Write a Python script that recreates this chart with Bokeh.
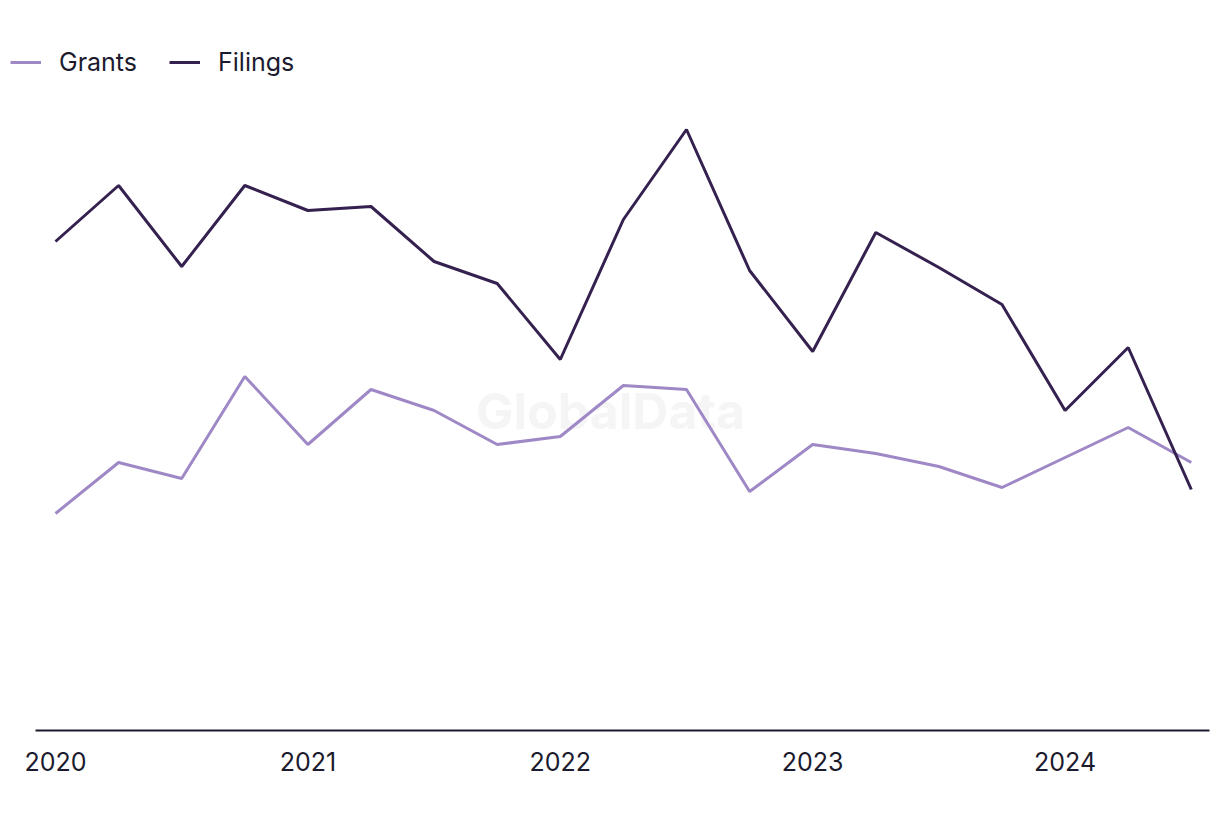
from bokeh.plotting import figure
from bokeh.models import Legend, LegendItem, FixedTicker, Label, Range1d
from bokeh.embed import file_html
from bokeh.resources import INLINE

# Quarterly periods (2020 Q1 .. 2024 Q3), expressed as fractional years
quarters = [2020.0, 2020.25, 2020.5, 2020.75,
            2021.0, 2021.25, 2021.5, 2021.75,
            2022.0, 2022.25, 2022.5, 2022.75,
            2023.0, 2023.25, 2023.5, 2023.75,
            2024.0, 2024.25, 2024.5]
filings = [97.8, 109.0, 92.8, 109.0, 104.0, 104.8, 93.8, 89.4, 74.2, 102.2,
           120.2, 92.0, 75.8, 99.6, 92.6, 85.2, 64.0, 76.6, 48.2]
grants = [43.4, 53.6, 50.4, 70.8, 57.2, 68.2, 64.0, 57.2, 58.8, 69.0,
          68.2, 47.8, 57.2, 55.4, 52.8, 48.6, 54.6, 60.6, 53.6]
tick_years = [2020, 2021, 2022, 2023, 2024]
tick_labels = ["2020", "2021", "2022", "2023", "2024"]

FONT = "Inter"
TEXT = "#1c1b2e"
GRANTS_C = "#9f88c6"
FILINGS_C = "#35214f"

p = figure(width=1220, height=820, output_backend="svg", toolbar_location=None,
           x_range=Range1d(2019.7821, 2024.6157), y_range=Range1d(0, 142),
           min_border_left=0, min_border_right=0, min_border_top=20,
           min_border_bottom=90)
p.outline_line_color = None
p.background_fill_color = "white"
p.border_fill_color = "white"
p.xgrid.visible = False
p.ygrid.visible = False
p.yaxis.visible = False

ax = p.xaxis[0]
ax.ticker = FixedTicker(ticks=tick_years)
ax.bounds = (2019.9208, 2024.5713)
ax.major_label_overrides = {y: l for y, l in zip(tick_years, tick_labels)}
ax.major_tick_line_color = None
ax.minor_tick_line_color = None
ax.axis_line_color = TEXT
ax.axis_line_width = 2
ax.major_label_text_font = FONT
ax.major_label_text_font_size = "25px"
ax.major_label_text_color = TEXT
ax.major_label_standoff = 15

wm = Label(x=2022.199, y=64, text="GlobalData", text_font=FONT,
           text_font_size="50px", text_font_style="bold",
           text_color="#f5f5f5", text_align="center", text_baseline="middle",
           level="underlay")
p.add_layout(wm)

r_g = p.line(quarters, grants, line_color=GRANTS_C, line_width=3)
r_f = p.line(quarters, filings, line_color=FILINGS_C, line_width=3)

legend = Legend(items=[LegendItem(label="Grants", renderers=[r_g]),
                       LegendItem(label="Filings", renderers=[r_f])],
                orientation="horizontal", location=(10, 653),
                label_text_font=FONT, label_text_font_size="25px",
                label_text_color=TEXT, glyph_width=31, glyph_height=20,
                label_standoff=18, spacing=32, padding=0, margin=0,
                border_line_color=None, background_fill_alpha=0)
p.add_layout(legend, "center")

open("out.html", "w").write(file_html(p, INLINE))
